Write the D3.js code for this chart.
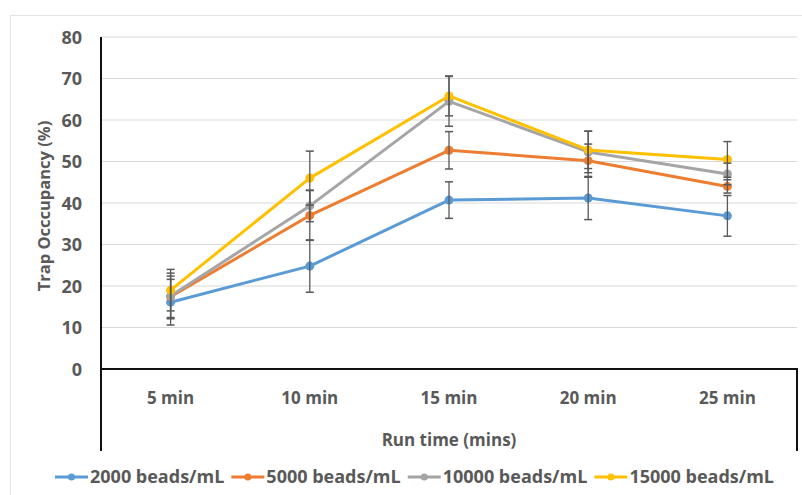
<!DOCTYPE html>
<html>
<head>
<meta charset="utf-8">
<script src="https://cdn.jsdelivr.net/npm/d3@7"></script>
<style>
  body { margin: 0; background: #fff; }
  text { font-family: "Open Sans", "Liberation Sans", sans-serif; fill: #595959; }
</style>
</head>
<body>
<div id="chart"></div>
<script>
// Chart data
let categories = ['5 min', '10 min', '15 min', '20 min', '25 min'];
let seriesNames = ['2000 beads/mL', '5000 beads/mL', '10000 beads/mL', '15000 beads/mL'];
let seriesColors = ['#5b9bd5', '#ed7d31', '#a5a5a5', '#ffc000'];
let values2000 = [16.1, 24.8, 40.7, 41.2, 36.9];
let values5000 = [17.4, 37.0, 52.7, 50.2, 44.0];
let values10000 = [17.6, 39.3, 64.5, 52.3, 47.0];
let values15000 = [19.0, 46.0, 65.8, 52.8, 50.5];
let errors2000 = [5.5, 6.3, 4.4, 5.2, 4.9];
let errors5000 = [5.0, 6.0, 4.5, 4.0, 1.6];
let errors10000 = [5.5, 3.8, 6.0, 5.0, 2.6];
let errors15000 = [5.0, 6.5, 4.8, 4.5, 4.3];
let yTicks = [0, 10, 20, 30, 40, 50, 60, 70, 80];

let allValues = [values2000, values5000, values10000, values15000];
let allErrors = [errors2000, errors5000, errors10000, errors15000];

let width = 802;
let height = 495;
let plotLeft = 101, plotRight = 797, plotTop = 37, plotBottom = 369;

let svg = d3.select('#chart')
	.append('svg')
	.attr('width', width)
	.attr('height', height);

// outer chart border
svg.append('rect')
	.attr('x', 10.5)
	.attr('y', 15.5)
	.attr('width', 820)
	.attr('height', 500)
	.attr('fill', 'none')
	.attr('stroke', '#e3e3e3')
	.attr('stroke-width', 1);

let x = d3.scaleBand()
	.domain(categories)
	.range([plotLeft, plotRight]);

let y = d3.scaleLinear()
	.domain([0, 80])
	.range([plotBottom, plotTop]);

// gridlines
svg.append('g')
	.selectAll('line')
	.data(yTicks.filter(function(d){ return d > 0; }))
	.enter()
	.append('line')
	.attr('x1', plotLeft)
	.attr('x2', plotRight)
	.attr('y1', function(d){ return y(d); })
	.attr('y2', function(d){ return y(d); })
	.attr('stroke', '#d9d9d9')
	.attr('stroke-width', 1);

// y tick labels
svg.append('g')
	.selectAll('text')
	.data(yTicks)
	.enter()
	.append('text')
	.text(function(d){ return d; })
	.attr('x', 82)
	.attr('y', function(d){ return y(d) + 6.5; })
	.attr('text-anchor', 'end')
	.attr('font-size', 18)
	.attr('font-weight', 'bold');

// axes lines
svg.append('line')
	.attr('x1', plotLeft).attr('x2', plotLeft)
	.attr('y1', plotTop).attr('y2', 451)
	.attr('stroke', '#111').attr('stroke-width', 2);
svg.append('line')
	.attr('x1', plotLeft - 1).attr('x2', plotRight + 1)
	.attr('y1', plotBottom).attr('y2', plotBottom)
	.attr('stroke', '#111').attr('stroke-width', 2);
svg.append('line')
	.attr('x1', plotRight).attr('x2', plotRight)
	.attr('y1', plotBottom).attr('y2', 451)
	.attr('stroke', '#111').attr('stroke-width', 2);

// category labels
svg.append('g')
	.selectAll('text')
	.data(categories)
	.enter()
	.append('text')
	.text(function(d){ return d; })
	.attr('x', function(d){ return x(d) + x.bandwidth() / 2; })
	.attr('y', 404)
	.attr('text-anchor', 'middle')
	.attr('font-size', 17)
	.attr('font-weight', 'bold');

// axis titles
svg.append('text')
	.text('Run time (mins)')
	.attr('x', (plotLeft + plotRight) / 2)
	.attr('y', 446)
	.attr('text-anchor', 'middle')
	.attr('font-size', 17)
	.attr('font-weight', 'bold');

svg.append('text')
	.text('Trap Occcupancy (%)')
	.attr('transform', 'translate(50,' + ((plotTop + plotBottom) / 2 + 3) + ') rotate(-90)')
	.attr('text-anchor', 'middle')
	.attr('font-size', 16.5)
	.attr('font-weight', 'bold');

let cx = function(i){ return x(categories[i]) + x.bandwidth() / 2; };
let lineBuild = d3.line()
	.x(function(d, i){ return cx(i); })
	.y(function(d){ return y(d); });

// series lines
allValues.forEach(function(vals, s){
	let g = svg.append('g');
	g.append('path')
		.attr('d', lineBuild(vals))
		.attr('fill', 'none')
		.attr('stroke', seriesColors[s])
		.attr('stroke-width', 3)
		.attr('stroke-linejoin', 'round');
	g.selectAll('circle')
		.data(vals)
		.enter()
		.append('circle')
		.attr('cx', function(d, i){ return cx(i); })
		.attr('cy', function(d){ return y(d); })
		.attr('r', 4.5)
		.attr('fill', seriesColors[s]);
});

// error bars
allValues.forEach(function(vals, s){
	let g = svg.append('g');
	vals.forEach(function(v, i){
		let e = allErrors[s][i];
		let px = cx(i);
		g.append('line')
			.attr('x1', px).attr('x2', px)
			.attr('y1', y(v + e)).attr('y2', y(v - e))
			.attr('stroke', '#595959').attr('stroke-width', 1.3);
		[v + e, v - e].forEach(function(t){
			g.append('line')
				.attr('x1', px - 4).attr('x2', px + 4)
				.attr('y1', y(t)).attr('y2', y(t))
				.attr('stroke', '#595959').attr('stroke-width', 1.5);
		});
	});
});

// legend, laid out left to right
let legend = svg.append('g');
let lx = 55;
seriesNames.forEach(function(name, s){
	legend.append('line')
		.attr('x1', lx).attr('x2', lx + 33)
		.attr('y1', 477).attr('y2', 477)
		.attr('stroke', seriesColors[s]).attr('stroke-width', 3);
	legend.append('circle')
		.attr('cx', lx + 16.5).attr('cy', 477).attr('r', 3.5)
		.attr('fill', seriesColors[s]);
	let t = legend.append('text')
		.text(name)
		.attr('x', lx + 35)
		.attr('y', 483)
		.attr('font-size', 18)
		.attr('font-weight', 'bold');
	lx = lx + 35 + t.node().getComputedTextLength() + 7;
});
</script>
</body>
</html>
